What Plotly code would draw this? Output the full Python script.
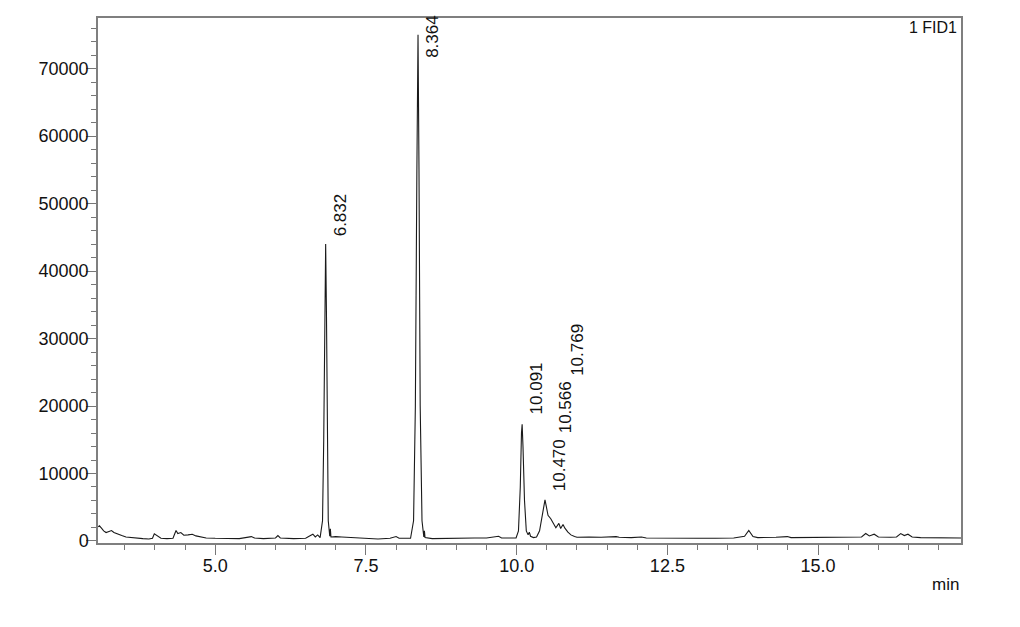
import plotly.graph_objects as go

# Chromatogram trace (time in min, signal)
time_min = [
    3.06, 3.08, 3.11, 3.15, 3.19, 3.24, 3.28, 3.32, 3.38, 3.45, 3.52, 3.60, 3.70, 3.80, 3.90, 3.96,
    3.99, 4.04, 4.10, 4.20, 4.30, 4.35, 4.38, 4.43, 4.48, 4.55, 4.62, 4.68, 4.75, 4.85, 5.00,
    5.20, 5.40, 5.60, 5.65, 5.80, 6.00, 6.04, 6.08, 6.30, 6.50, 6.58, 6.62, 6.66, 6.70, 6.74,
    6.78, 6.80, 6.815, 6.832, 6.845, 6.86, 6.875, 6.90, 6.91, 6.92,
    7.00, 7.10, 7.30, 7.50, 7.70, 7.90, 8.00, 8.05, 8.15, 8.24,
    8.29, 8.32, 8.345, 8.364, 8.38, 8.40, 8.43, 8.46, 8.47, 8.48,
    8.60, 8.80, 9.00, 9.30, 9.50, 9.70, 9.75, 9.90, 9.99,
    10.03, 10.06, 10.08, 10.091, 10.105, 10.13, 10.16, 10.19, 10.21, 10.23, 10.28,
    10.33, 10.38, 10.42, 10.45, 10.470, 10.49, 10.52, 10.566, 10.60, 10.65, 10.70, 10.73,
    10.769, 10.80, 10.85, 10.90, 10.96, 11.00,
    11.20, 11.40, 11.65, 11.70, 11.90, 12.07, 12.15, 12.50, 12.80, 13.00, 13.30, 13.60,
    13.78, 13.85, 13.92, 14.00, 14.30, 14.49, 14.55, 14.80, 15.05, 15.30, 15.60, 15.72,
    15.79, 15.85, 15.93, 16.00, 16.20, 16.30, 16.37, 16.43, 16.49, 16.56, 16.70, 17.37,
]
signal = [
    2100, 2250, 1950, 1500, 1250, 1400, 1550, 1250, 1000, 800, 600, 500, 450, 350, 300, 400,
    1050, 700, 400, 350, 400, 1550, 1100, 1250, 850, 900, 1000, 750, 600, 450, 400,
    350, 350, 650, 450, 350, 450, 800, 450, 350, 400, 800, 1000, 600, 900, 500,
    3000, 15000, 32000, 44000, 34000, 15000, 3000, 700, 1800, 600,
    650, 600, 500, 400, 300, 400, 650, 400, 350, 400,
    3000, 20000, 55000, 75000, 55000, 20000, 3000, 600, 1500, 500,
    350, 400, 450, 450, 450, 700, 450, 500, 450,
    1500, 8000, 16000, 17300, 14000, 6000, 1500, 900, 1300, 700, 500,
    600, 1500, 3800, 5600, 6100, 5200, 3800, 3300, 2700, 1950, 2600, 1850,
    2450, 1900, 1300, 900, 650, 550,
    600, 550, 650, 550, 500, 600, 450, 400, 450, 400, 400, 450,
    700, 1550, 650, 500, 550, 650, 500, 500, 600, 550, 550, 600,
    1100, 750, 1000, 600, 550, 600, 1100, 800, 1000, 600, 500, 450,
]

# Peak labels
peak_rt = [6.832, 8.364, 10.091, 10.470, 10.566, 10.769]
peak_label = ["6.832", "8.364", "10.091", "10.470", "10.566", "10.769"]
label_base = [44800, 71300, 18400, 7150, 15700, 24100]

x_tickvals = [5.0, 7.5, 10.0, 12.5, 15.0]
y_tickvals = [0, 10000, 20000, 30000, 40000, 50000, 60000, 70000]

FONT = "Liberation Sans, Arial, sans-serif"

fig = go.Figure()
fig.add_trace(go.Scatter(
    x=time_min, y=signal, mode="lines",
    line=dict(color="#1a1a1a", width=1.1),
    hoverinfo="skip", showlegend=False,
))

for rt, lab, yb in zip(peak_rt, peak_label, label_base):
    fig.add_annotation(
        x=rt, y=yb, text=lab, showarrow=False, textangle=-90,
        xanchor="center", yanchor="bottom", xshift=14.5,
        font=dict(family=FONT, size=17, color="#111111"),
    )

fig.add_annotation(
    xref="paper", yref="paper", x=1, y=1, text="1 FID1", showarrow=False,
    xanchor="right", yanchor="top", xshift=-2, yshift=1,
    font=dict(family=FONT, size=16, color="#111111"),
)
fig.add_annotation(
    xref="paper", yref="paper", x=1, y=-0.079, text="min", showarrow=False,
    xanchor="right", yanchor="middle",
    font=dict(family=FONT, size=17, color="#111111"),
)

# page body has an 8px margin; figure sized to fit the 1020x627 window
fig.update_layout(
    width=1004, height=611,
    margin=dict(l=90, r=51, t=8, b=75.5),
    paper_bgcolor="white", plot_bgcolor="white",
    font=dict(family=FONT, size=18, color="#111111"),
    showlegend=False,
)
fig.update_xaxes(
    range=[3.056, 17.37], tickvals=x_tickvals,
    ticktext=[f"{v:.1f}" for v in x_tickvals],
    ticks="outside", ticklen=10, tickwidth=1, tickcolor="#777777",
    minor=dict(dtick=0.5, tick0=0, ticks="outside", ticklen=5, tickwidth=1, tickcolor="#777777"),
    showline=True, linecolor="#7f7f7f", linewidth=1.5, mirror=True,
    showgrid=False, zeroline=False,
    ticklabelstandoff=-4,
)
fig.update_yaxes(
    range=[-300, 77500], tickvals=y_tickvals,
    ticktext=[str(v) for v in y_tickvals],
    ticks="outside", ticklen=10, tickwidth=1, tickcolor="#777777",
    minor=dict(dtick=2000, tick0=0, ticks="outside", ticklen=5, tickwidth=1, tickcolor="#777777"),
    showline=True, linecolor="#7f7f7f", linewidth=1.5, mirror=True,
    showgrid=False, zeroline=False,
    ticklabelstandoff=-6,
)

fig.write_html("out.html")
